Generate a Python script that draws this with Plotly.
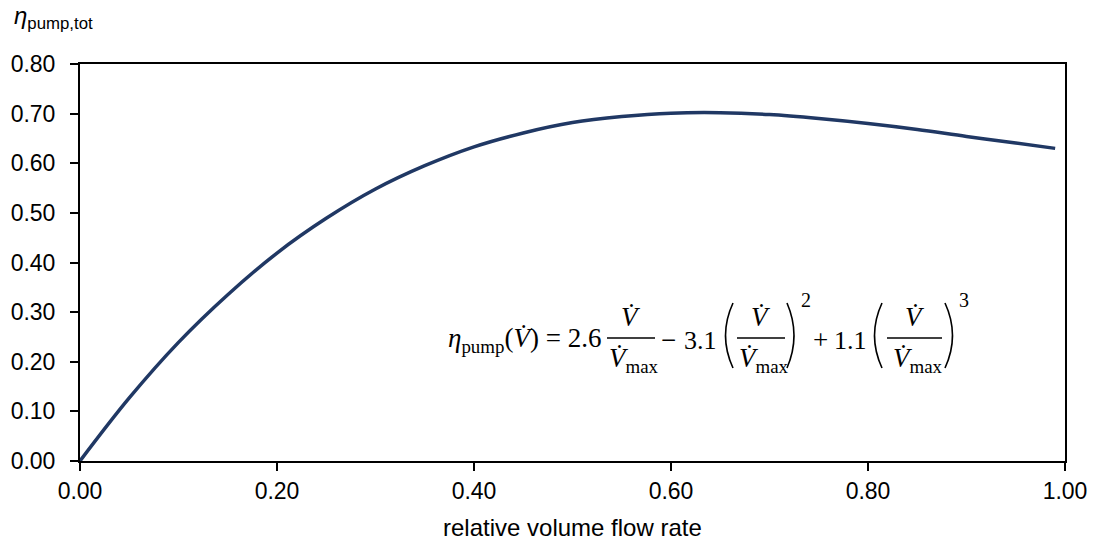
import plotly.graph_objects as go

# ---- data ----
flow_rel = [0.00, 0.05, 0.10, 0.15, 0.20, 0.25, 0.30, 0.35, 0.40, 0.45, 0.50,
            0.55, 0.60, 0.65, 0.70, 0.75, 0.80, 0.85, 0.90, 0.95, 0.99]
eta_tot = [0.000, 0.127, 0.239, 0.335, 0.419, 0.489, 0.548, 0.595, 0.633, 0.661, 0.682,
           0.694, 0.701, 0.702, 0.698, 0.690, 0.680, 0.668, 0.654, 0.641, 0.630]
x_ticks = [0.0, 0.2, 0.4, 0.6, 0.8, 1.0]
y_ticks = [0.0, 0.1, 0.2, 0.3, 0.4, 0.5, 0.6, 0.7, 0.8]
x_title = "relative volume flow rate"
y_title = "<i>η</i><sub>pump,tot</sub>"

W, H = 1094, 542
L, R, T, B = 80, 1065, 64, 461

def px(x):
    return (x - L) / (R - L)

def py(y):
    return (B - y) / (B - T)

LINE = "#203864"
FONT = "Liberation Sans, Arial, sans-serif"
SERIF = "Liberation Serif, Times New Roman, serif"

fig = go.Figure()
fig.add_trace(go.Scatter(x=flow_rel, y=eta_tot, mode="lines",
                         line=dict(color=LINE, width=3.5, shape="spline", smoothing=1.0),
                         showlegend=False, hoverinfo="skip"))

axis_common = dict(showgrid=False, zeroline=False, showline=True, linecolor="black",
                   linewidth=2, mirror=True, ticks="outside", ticklen=8, tickwidth=2,
                   tickcolor="black", automargin=False,
                   tickfont=dict(family=FONT, size=23, color="black"))
fig.update_xaxes(range=[0, 1], tickvals=x_ticks, ticktext=[f"{v:.2f}" for v in x_ticks],
                 **axis_common)
fig.update_yaxes(range=[0, 0.8], tickvals=y_ticks, ticktext=[f"{v:.2f}" for v in y_ticks],
                 ticklabelstandoff=10, **axis_common)

ann = []
shapes = []
ann.append(dict(text=y_title, x=px(12), y=py(18), xref="paper", yref="paper",
                xanchor="left", yanchor="middle", showarrow=False,
                font=dict(family=FONT, size=24, color="black")))
ann.append(dict(text=x_title, x=px(572), y=py(527), xref="paper", yref="paper",
                xanchor="center", yanchor="middle", showarrow=False,
                font=dict(family=FONT, size=24, color="black")))

V = "<i>V\u0307</i>"
def eq_text(t, x, y, anchor="left", size=27):
    ann.append(dict(text=t, x=px(x), y=py(y), xref="paper", yref="paper", xanchor=anchor,
                    yanchor="middle", showarrow=False, font=dict(family=SERIF, size=size, color="black")))

def frac(x0, x1, ybar=338):
    c = (x0 + x1) / 2
    eq_text(V, c, ybar - 21, "center")
    eq_text(V + "<sub>max</sub>", c + 3, ybar + 22, "center")
    shapes.append(dict(type="line", xref="paper", yref="paper", x0=px(x0), x1=px(x1),
                       y0=py(ybar), y1=py(ybar), line=dict(color="black", width=1.5)))

def paren(x0, x1, y0=303, y1=368, left=True):
    if left:
        path = f"M {px(x1)} {py(y0)} Q {px(x0 - 4)} {py((y0 + y1) / 2)} {px(x1)} {py(y1)}"
    else:
        path = f"M {px(x0)} {py(y0)} Q {px(x1 + 4)} {py((y0 + y1) / 2)} {px(x0)} {py(y1)}"
    shapes.append(dict(type="path", xref="paper", yref="paper", path=path,
                       line=dict(color="black", width=1.6)))

eq_text("<i>η</i><sub>pump</sub>(" + V + ") = 2.6", 603, 340, "right")
frac(607, 655)
eq_text("−", 668, 340, "center")
eq_text("3.1", 719, 340, "right", 26)
paren(722, 733, left=True)
frac(737, 785)
paren(787, 797, left=False)
eq_text("2", 806, 300, "center", 20)
eq_text("+", 820, 340, "center")
eq_text("1.1", 869, 340, "right", 26)
paren(871, 882, left=True)
frac(887, 942)
paren(945, 956, left=False)
eq_text("3", 964, 300, "center", 20)

fig.update_layout(width=W, height=H, margin=dict(l=L, r=W - R, t=T, b=H - B),
                  paper_bgcolor="white", plot_bgcolor="white",
                  annotations=ann, shapes=shapes)

fig.write_html("out.html")
